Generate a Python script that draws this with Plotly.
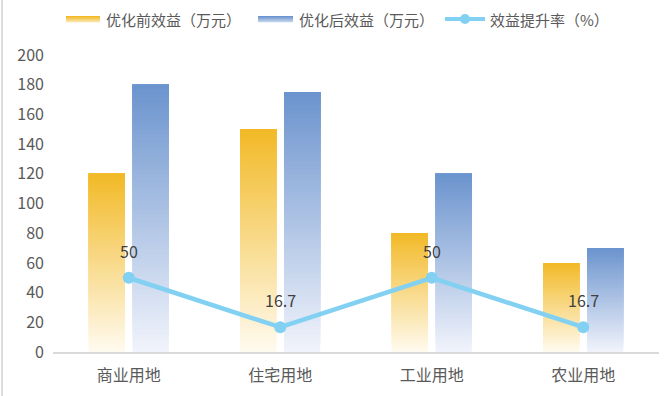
import plotly.graph_objects as go

categories = ["商业用地", "住宅用地", "工业用地", "农业用地"]
before_vals = [120, 150, 80, 60]
after_vals = [180, 175, 120, 70]
rate_vals = [50, 16.7, 50, 16.7]
rate_labels = ["50", "16.7", "50", "16.7"]
y_ticks = [0, 20, 40, 60, 80, 100, 120, 140, 160, 180, 200]

series_names = ["优化前效益（万元）", "优化后效益（万元）", "效益提升率（%）"]

FONT = "Noto Sans CJK SC, Microsoft YaHei, sans-serif"
TXT = "#595959"

orange_top, orange_bot = (242, 186, 40), (255, 250, 238)
blue_top, blue_bot = (108, 148, 206), (240, 243, 251)
line_color = "#82D0F2"

N = 60
BAR_W = 0.238
OFF_ORANGE = -0.264
OFF_BLUE = 0.026


def mix(c_top, c_bot, t):
    return "rgb(%d,%d,%d)" % tuple(round(b + (a - b) * t) for a, b in zip(c_top, c_bot))


fig = go.Figure()
for vals, ctop, cbot, off in [(before_vals, orange_top, orange_bot, OFF_ORANGE),
                              (after_vals, blue_top, blue_bot, OFF_BLUE)]:
    for k in range(N):
        t = k / (N - 1)
        fig.add_trace(go.Bar(
            x=categories,
            base=[v * k / N for v in vals],
            y=[v * (N - k) / N for v in vals],
            width=BAR_W, offset=off,
            marker=dict(color=mix(ctop, cbot, t), line=dict(width=0)),
            showlegend=False, hoverinfo="skip",
        ))

fig.add_trace(go.Scatter(
    x=categories, y=rate_vals, mode="lines+markers",
    line=dict(color=line_color, width=4.5),
    marker=dict(color=line_color, size=12),
    showlegend=False, hoverinfo="skip",
))

for c, v, lab in zip(categories, rate_vals, rate_labels):
    fig.add_annotation(x=c, y=v, text=lab, showarrow=False, yshift=27,
                       font=dict(family=FONT, size=16, color="#404040"))

# manual legend
shapes = []
for x0, x1, ctop, cbot in [(66, 100, orange_top, orange_bot), (258, 293, blue_top, blue_bot)]:
    steps = 6
    for s in range(steps):
        y0 = 16 + s * 1.0
        shapes.append(dict(type="rect", xref="paper", yref="paper",
                           x0=(x0 - 53) / 606, x1=(x1 - 53) / 606,
                           y0=(352 - (y0 + 1.2)) / 297, y1=(352 - y0) / 297,
                           fillcolor=mix(ctop, cbot, 1 - s / (steps + 2)), line=dict(width=0), layer="above"))
shapes.append(dict(type="line", xref="paper", yref="paper",
                   x0=(445 - 53) / 606, x1=(485 - 53) / 606,
                   y0=(352 - 19) / 297, y1=(352 - 19) / 297,
                   line=dict(color=line_color, width=4)))
shapes.append(dict(type="circle", xref="paper", yref="paper",
                   x0=(460 - 53) / 606, x1=(470 - 53) / 606,
                   y0=(352 - 24) / 297, y1=(352 - 14) / 297,
                   fillcolor=line_color, line=dict(width=0)))
# left border
shapes.append(dict(type="line", xref="paper", yref="paper",
                   x0=(2 - 53) / 606, x1=(2 - 53) / 606,
                   y0=(352 - 396) / 297, y1=(352 - 0) / 297,
                   line=dict(color="#d0d0d0", width=1.5)))

for name, xl in zip(series_names, [104, 297, 488]):
    fig.add_annotation(xref="paper", yref="paper", x=(xl - 53) / 606, y=(352 - 19) / 297,
                       xanchor="left", yanchor="middle", text=name, showarrow=False,
                       font=dict(family=FONT, size=15, color=TXT))

fig.update_layout(
    width=669, height=396,
    margin=dict(l=53, r=10, t=55, b=44),
    barmode="overlay",
    paper_bgcolor="white", plot_bgcolor="white",
    font=dict(family=FONT, size=16, color=TXT),
    shapes=shapes,
    showlegend=False,
    xaxis=dict(type="category", showline=True, linecolor="#d9d9d9", linewidth=1.5,
               showgrid=False, ticks="", ticklabelstandoff=8, fixedrange=True),
    yaxis=dict(range=[0, 200], tickvals=y_ticks, showgrid=False, zeroline=False,
               showline=False, ticks="", ticklabelstandoff=8, fixedrange=True),
)

fig.write_html("out.html", config={"displayModeBar": False},
               post_script="document.body.style.margin='0';document.body.style.overflow='hidden';")
